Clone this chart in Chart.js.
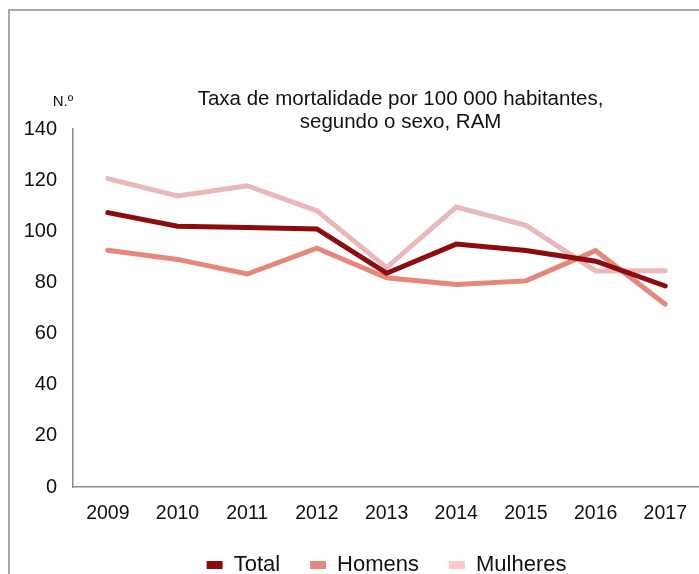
<!DOCTYPE html>
<html>
<head>
<meta charset="utf-8">
<script src="https://cdn.jsdelivr.net/npm/chart.js@4/dist/chart.umd.min.js"></script>
<style>
  html, body { margin: 0; padding: 0; overflow: hidden; background: #fff; }
  #wrap { position: relative; width: 699px; height: 574px; overflow: hidden; }
  #frame { position: absolute; left: 8px; top: 9px; width: 720px; height: 600px;
           border-top: 2px solid #a8a8a8; border-left: 2px solid #a8a8a8; }
  #chart { position: absolute; left: 0; top: 0; }
</style>
</head>
<body>
<div id="wrap">
  <div id="frame"></div>
  <canvas id="chart" width="702" height="586"></canvas>
</div>
<script>
// data
const years = ["2009", "2010", "2011", "2012", "2013", "2014", "2015", "2016", "2017"];
const total = [107.3, 102.0, 101.5, 100.9, 83.6, 95.0, 92.5, 88.3, 78.6];
const homens = [92.6, 89.0, 83.3, 93.4, 81.8, 79.2, 80.6, 92.4, 71.5];
const mulheres = [120.6, 113.8, 117.8, 108.0, 85.8, 109.5, 102.3, 84.5, 84.6];

const titleLines = ["Taxa de mortalidade por 100 000 habitantes,", "segundo o sexo, RAM"];
const unitLabel = "N.º";

const lineColors = ['#8d0b0f', '#e6877a', '#e9b9b9'];
const legendColors = ['#8d0b0f', '#e6877a', '#ffc8ca'];

const FONT = '"Liberation Sans", Arial, sans-serif';

// title + unit label drawn above the plot
const headerText = {
  id: 'headerText',
  afterDraw(chart) {
    const { ctx, chartArea } = chart;
    ctx.save();
    ctx.fillStyle = '#111';
    ctx.textAlign = 'center';
    ctx.textBaseline = 'middle';
    ctx.font = '20.5px ' + FONT;
    const cx = (chartArea.left + chartArea.right) / 2 + 14;
    ctx.fillText(titleLines[0], cx, chartArea.top - 30);
    ctx.fillText(titleLines[1], cx, chartArea.top - 7);
    ctx.font = '15px ' + FONT;
    ctx.fillText(unitLabel, chartArea.left - 10, chartArea.top - 27);
    ctx.restore();
  }
};

const config = {
  type: 'line',
  data: {
    labels: years,
    datasets: [
      { label: 'Total', data: total, borderColor: lineColors[0], backgroundColor: legendColors[0], order: 0 },
      { label: 'Homens', data: homens, borderColor: lineColors[1], backgroundColor: legendColors[1], order: 1 },
      { label: 'Mulheres', data: mulheres, borderColor: lineColors[2], backgroundColor: legendColors[2], order: 2 }
    ]
  },
  options: {
    responsive: false,
    animation: false,
    layout: { padding: { top: 129, left: 0, right: 0, bottom: 0 } },
    elements: {
      line: { borderWidth: 5, tension: 0, borderCapStyle: 'round', borderJoinStyle: 'miter' },
      point: { radius: 0, hoverRadius: 0 }
    },
    scales: {
      x: {
        offset: true,
        grid: { display: false, drawTicks: false },
        border: { display: true, color: '#8c8c8c', width: 1.5 },
        ticks: { color: '#111', font: { size: 19.5, family: FONT }, padding: 15, maxRotation: 0 },
        afterFit(scale) { scale.height = 37; }
      },
      y: {
        min: 0,
        max: 140,
        grid: { display: false, drawTicks: false },
        border: { display: true, color: '#8c8c8c', width: 1.5 },
        ticks: { stepSize: 20, color: '#111', font: { size: 20, family: FONT }, padding: 16 },
        afterFit(scale) { scale.width = 73; }
      }
    },
    plugins: {
      title: { display: false },
      tooltip: { enabled: false },
      legend: {
        position: 'bottom',
        fullSize: false,
        labels: {
          color: '#111',
          font: { size: 22, family: FONT },
          boxWidth: 16,
          boxHeight: 8,
          padding: 30,
          generateLabels: (chart) => chart.data.datasets.map((ds, i) => ({
            text: ds.label,
            fillStyle: legendColors[i],
            strokeStyle: legendColors[i],
            lineWidth: 0,
            hidden: false,
            datasetIndex: i,
            fontColor: '#111'
          }))
        }
      }
    }
  },
  plugins: [headerText]
};

const chart = new Chart(document.getElementById('chart').getContext('2d'), config);
</script>
</body>
</html>
